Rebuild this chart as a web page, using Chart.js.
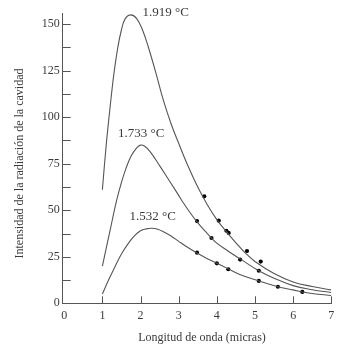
<!DOCTYPE html>
<html>
<head>
<meta charset="utf-8">
<script src="https://cdn.jsdelivr.net/npm/chart.js@4"></script>
<style>
  html, body { margin: 0; padding: 0; background: #fff; }
  canvas { display: block; }
</style>
</head>
<body>
<canvas id="c" width="350" height="350"></canvas>
<script>
// Curva a 1.919 °C
const x1919 = [1.0, 1.1, 1.2, 1.3, 1.4, 1.5, 1.6, 1.75, 1.9, 2.05, 2.2, 2.4, 2.6, 2.8, 3.0, 3.25, 3.5, 3.75, 4.0, 4.25, 4.5, 4.75, 5.0, 5.5, 6.0, 6.5, 7.0];
const y1919 = [61, 85, 105, 123, 137, 147, 153, 155, 153, 147, 138, 124, 109, 96.5, 86, 73.5, 62.5, 53, 45, 38.5, 32.5, 27, 22.5, 16, 11.5, 9, 7.2];

// Curva a 1.733 °C
const x1733 = [1.0, 1.2, 1.37, 1.5, 1.61, 1.75, 1.9, 2.0, 2.1, 2.25, 2.5, 2.75, 3.0, 3.12, 3.47, 3.75, 4.0, 4.3, 4.6, 5.1, 5.5, 6.0, 6.5, 7.0];
const y1733 = [20, 39, 55, 65, 72, 79, 83.5, 85, 84.5, 81.5, 74, 66, 58, 54, 44, 37.5, 32.3, 28, 24, 17.5, 13.5, 9.5, 7.3, 5.8];

// Curva a 1.532 °C
const x1532 = [1.0, 1.15, 1.33, 1.5, 1.68, 1.85, 2.0, 2.15, 2.3, 2.45, 2.6, 2.8, 3.0, 3.2, 3.48, 3.75, 4.0, 4.3, 4.6, 5.1, 5.6, 6.0, 6.24, 6.5, 7.0];
const y1532 = [5, 12, 19.7, 26.5, 32.2, 36.5, 39, 40, 40.3, 39.8, 38.5, 36.2, 33.3, 30.5, 27, 24, 21.5, 18.5, 15.5, 12, 8.9, 7.2, 6.1, 5.3, 4.2];

// Medidas experimentales
const xMedidas = [3.67, 3.48, 4.05, 4.25, 4.31, 3.86, 4.79, 5.15, 4.61, 5.10, 3.48, 4.00, 4.30, 5.10, 5.60, 6.24];
const yMedidas = [57.5, 44.2, 44.4, 39.0, 37.8, 35.1, 28.1, 22.4, 23.5, 17.5, 27.2, 21.5, 18.3, 12.0, 8.9, 6.1];

// Etiquetas de las curvas
const etiquetas = ['1.919 °C', '1.733 °C', '1.532 °C'];
const etiquetaX = [2.66, 2.02, 2.32];
const etiquetaY = [156, 91.4, 46.6];

// Marcas de los ejes
const marcasX = [0, 1, 2, 3, 4, 5, 6, 7];
const marcasY = [0, 12.5, 25, 37.5, 50, 62.5, 75, 87.5, 100, 112.5, 125, 137.5, 150];

const tituloX = 'Longitud de onda (micras)';
const tituloY = 'Intensidad de la radiación de la cavidad';

const FONT = '"Liberation Serif", "Times New Roman", serif';
const TEXT = '#3a3a3a';
const LINE = '#555555';

const pares = (xs, ys) => xs.map((x, i) => ({ x, y: ys[i] }));

const curva = (xs, ys) => ({
  type: 'line',
  data: pares(xs, ys),
  borderColor: LINE,
  borderWidth: 1.1,
  pointRadius: 0,
  fill: false,
  tension: 0.4
});

// Marcas interiores, etiquetas de las curvas y títulos de los ejes
const decoracion = {
  id: 'decoracion',
  afterDraw(chart) {
    const { ctx, chartArea: a, scales: { x, y } } = chart;
    ctx.save();
    ctx.strokeStyle = LINE;
    ctx.lineWidth = 1;
    ctx.beginPath();
    marcasY.forEach(v => {
      if (v === 0) return;
      const py = Math.round(y.getPixelForValue(v)) + 0.5;
      ctx.moveTo(a.left, py);
      ctx.lineTo(a.left + 8, py);
    });
    marcasX.forEach(v => {
      if (v === 0) return;
      const px = Math.round(x.getPixelForValue(v)) + 0.5;
      ctx.moveTo(px, a.bottom);
      ctx.lineTo(px, a.bottom - 7);
    });
    ctx.stroke();

    ctx.fillStyle = TEXT;
    ctx.font = '13px ' + FONT;
    ctx.textAlign = 'center';
    ctx.textBaseline = 'middle';
    etiquetas.forEach((t, i) => {
      ctx.fillText(t, x.getPixelForValue(etiquetaX[i]), y.getPixelForValue(etiquetaY[i]));
    });

    ctx.font = '12px ' + FONT;
    ctx.fillText(tituloX, 202, 338);
    ctx.translate(20, 163.5);
    ctx.rotate(-Math.PI / 2);
    ctx.fillText(tituloY, 0, 0);
    ctx.restore();
  }
};

new Chart(document.getElementById('c'), {
  data: {
    datasets: [
      curva(x1919, y1919),
      curva(x1733, y1733),
      curva(x1532, y1532),
      {
        type: 'scatter',
        data: pares(xMedidas, yMedidas),
        backgroundColor: '#000',
        borderColor: '#000',
        pointRadius: 2.1,
        borderWidth: 0
      }
    ]
  },
  options: {
    responsive: false,
    animation: false,
    devicePixelRatio: 1,
    layout: { padding: { left: 0, right: 18.7, top: 13, bottom: 0 } },
    plugins: { legend: { display: false }, tooltip: { enabled: false } },
    scales: {
      x: {
        type: 'linear',
        min: -0.04,
        max: 7,
        afterBuildTicks(s) { s.ticks = marcasX.map(v => ({ value: v })); },
        afterFit(s) { s.height = 46.7; },
        grid: { display: false, drawTicks: false },
        border: { display: true, color: LINE, width: 1 },
        ticks: {
          color: TEXT,
          font: { family: FONT, size: 12 },
          padding: 5,
          maxRotation: 0,
          callback: v => String(v)
        }
      },
      y: {
        type: 'linear',
        min: 0,
        max: 156,
        afterBuildTicks(s) { s.ticks = marcasY.map(v => ({ value: v })); },
        afterFit(s) { s.width = 62.7; },
        grid: { display: false, drawTicks: false },
        border: { display: true, color: LINE, width: 1 },
        ticks: {
          color: TEXT,
          font: { family: FONT, size: 12 },
          padding: 3,
          callback: v => (v % 25 === 0 ? String(v) : '')
        }
      }
    }
  },
  plugins: [decoracion]
});
</script>
</body>
</html>
